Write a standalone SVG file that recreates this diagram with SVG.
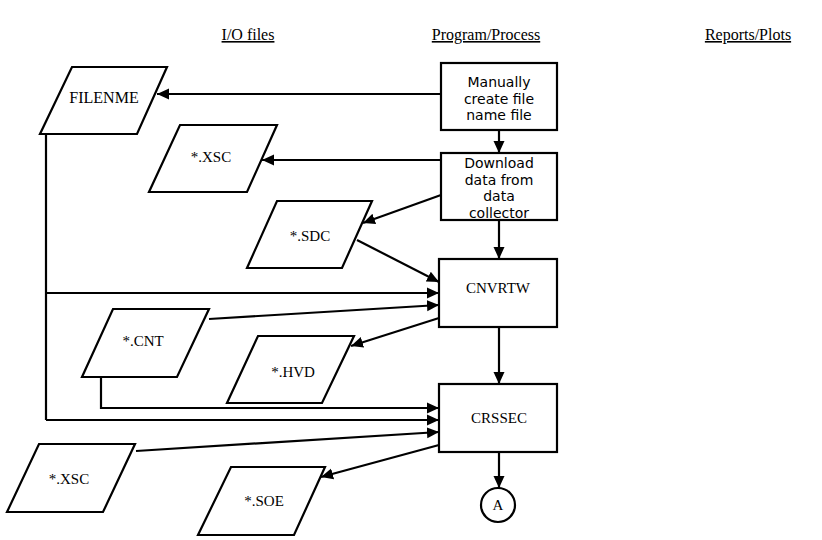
<svg xmlns="http://www.w3.org/2000/svg" width="822" height="540" viewBox="0 0 822 540">
  <style>
    .hdr { font-family: "Liberation Serif", serif; font-size: 16px; text-decoration: underline; fill: #000; text-anchor: middle; }
    .box { fill: #fff; stroke: #000; stroke-width: 2.2; }
    .file { fill: #fff; stroke: #000; stroke-width: 2.2; stroke-linejoin: miter; }
    .ptxt { font-family: "DejaVu Sans", sans-serif; font-size: 14px; fill: #000; text-anchor: middle; }
    .ftxt { font-family: "Liberation Serif", serif; font-size: 15px; fill: #000; text-anchor: middle; }
    .conn { fill: none; stroke: #000; stroke-width: 2.2; }
    .arr { marker-end: url(#head); }
  </style>
  <defs>
    <marker id="head" viewBox="0 0 12 12" refX="12" refY="6" markerWidth="12" markerHeight="12" markerUnits="userSpaceOnUse" orient="auto">
      <path d="M0,0.5 L12,6 L0,11.5 Z" fill="#000"/>
    </marker>
  </defs>
  <rect width="822" height="540" fill="#fff"/>

  <!-- column headings -->
  <g id="headings">
    <text class="hdr" x="248" y="40">I/O files</text>
    <text class="hdr" x="486" y="40">Program/Process</text>
    <text class="hdr" x="748" y="40">Reports/Plots</text>
  </g>

  <!-- connectors -->
  <g id="connectors">
    <line class="conn arr" x1="441" y1="94" x2="157" y2="94"/>
    <line class="conn arr" x1="499" y1="130" x2="499" y2="153"/>
    <line class="conn arr" x1="441" y1="160" x2="262" y2="160"/>
    <line class="conn arr" x1="441" y1="195" x2="363" y2="223"/>
    <line class="conn arr" x1="499" y1="220" x2="499" y2="259"/>
    <line class="conn arr" x1="357" y1="240" x2="439" y2="282"/>
    <polyline class="conn" points="46,134 46,420"/>
    <line class="conn arr" x1="46" y1="293" x2="439" y2="293"/>
    <line class="conn arr" x1="209" y1="319" x2="439" y2="305"/>
    <line class="conn arr" x1="439" y1="318" x2="351" y2="346"/>
    <line class="conn arr" x1="499" y1="327" x2="499" y2="384"/>
    <polyline class="conn arr" points="101,377 101,408 439,408"/>
    <line class="conn arr" x1="46" y1="420" x2="439" y2="420"/>
    <line class="conn arr" x1="136" y1="451" x2="439" y2="432"/>
    <line class="conn arr" x1="439" y1="445" x2="321" y2="477"/>
    <line class="conn arr" x1="499" y1="452" x2="499" y2="488"/>
  </g>

  <!-- program / process boxes -->
  <g id="manual-create">
    <rect class="box" x="441" y="63" width="116" height="67"/>
    <text class="ptxt" x="499" y="87">Manually</text>
    <text class="ptxt" x="499" y="103.5">create file</text>
    <text class="ptxt" x="499" y="120">name file</text>
  </g>
  <g id="download">
    <rect class="box" x="441" y="153" width="116" height="67"/>
    <text class="ptxt" x="499" y="168">Download</text>
    <text class="ptxt" x="499" y="184.5">data from</text>
    <text class="ptxt" x="499" y="201">data</text>
    <text class="ptxt" x="499" y="217.5">collector</text>
  </g>
  <g id="cnvrtw">
    <rect class="box" x="439" y="259" width="118" height="68"/>
    <text class="ftxt" x="498" y="293">CNVRTW</text>
  </g>
  <g id="crssec">
    <rect class="box" x="439" y="384" width="118" height="68"/>
    <text class="ftxt" x="499" y="423">CRSSEC</text>
  </g>
  <g id="connector-a">
    <circle cx="498" cy="505" r="17" fill="#fff" stroke="#000" stroke-width="2.2"/>
    <text class="ftxt" x="498" y="510">A</text>
  </g>

  <!-- I/O files -->
  <g id="filenme">
    <polygon class="file" points="72,67 167,67 137,134 40,134"/>
    <text class="ftxt" x="104" y="103" style="font-size:16px">FILENME</text>
  </g>
  <g id="xsc-download">
    <polygon class="file" points="180,125 277,125 247,192 149,192"/>
    <text class="ftxt" x="211" y="162">*.XSC</text>
  </g>
  <g id="sdc">
    <polygon class="file" points="277,201 372,201 342,268 247,268"/>
    <text class="ftxt" x="310" y="241">*.SDC</text>
  </g>
  <g id="cnt">
    <polygon class="file" points="113,309 209,309 177,377 82,377"/>
    <text class="ftxt" x="143" y="346">*.CNT</text>
  </g>
  <g id="hvd">
    <polygon class="file" points="258,336 354,336 322,403 227,403"/>
    <text class="ftxt" x="293" y="377">*.HVD</text>
  </g>
  <g id="xsc-input">
    <polygon class="file" points="39,444 135,444 103,512 7,512"/>
    <text class="ftxt" x="69" y="484">*.XSC</text>
  </g>
  <g id="soe">
    <polygon class="file" points="231,467 325,467 294,535 198,535"/>
    <text class="ftxt" x="264" y="506">*.SOE</text>
  </g>
</svg>
